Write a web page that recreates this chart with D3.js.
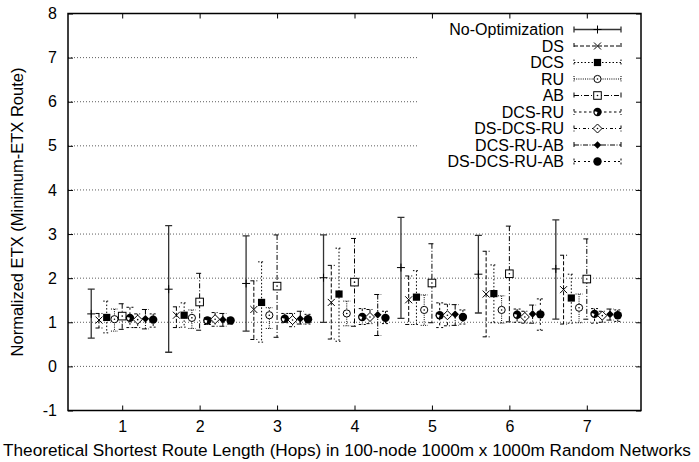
<!DOCTYPE html>
<html>
<head>
<meta charset="utf-8">
<script src="https://cdn.jsdelivr.net/npm/d3@7"></script>
<style>
  body { margin: 0; background: #fff; }
  text { font-family: "Liberation Sans", Arial, Helvetica, sans-serif; fill: #000; }
</style>
</head>
<body>
<script>
// hop counts on the x axis
const categories = [1, 2, 3, 4, 5, 6, 7];
const seriesNames = ['No-Optimization', 'DS', 'DCS', 'RU', 'AB', 'DCS-RU', 'DS-DCS-RU', 'DCS-RU-AB', 'DS-DCS-RU-AB'];
const yTicks = [-1, 0, 1, 2, 3, 4, 5, 6, 7, 8];

// one row per series, one column per hop count
const means = [
  [1.19, 1.75, 1.88, 2.01, 2.24, 2.09, 2.21],
  [1.05, 1.16, 1.29, 1.45, 1.51, 1.64, 1.74],
  [1.11, 1.16, 1.45, 1.64, 1.57, 1.65, 1.55],
  [1.07, 1.10, 1.16, 1.20, 1.28, 1.28, 1.33],
  [1.14, 1.46, 1.82, 1.91, 1.89, 2.10, 1.98],
  [1.10, 1.04, 1.08, 1.12, 1.16, 1.17, 1.19],
  [1.06, 1.07, 1.05, 1.12, 1.16, 1.12, 1.15],
  [1.08, 1.06, 1.08, 1.17, 1.18, 1.19, 1.18],
  [1.06, 1.04, 1.07, 1.10, 1.12, 1.18, 1.16]
];
const lows = [
  [0.64, 0.32, 0.80, 1.00, 1.09, 1.21, 1.07],
  [0.87, 0.88, 0.61, 0.62, 0.95, 0.67, 0.96],
  [0.76, 0.89, 0.55, 0.57, 0.95, 0.99, 0.98],
  [0.80, 0.86, 0.86, 0.92, 0.93, 0.98, 0.99],
  [0.84, 0.82, 0.66, 0.91, 0.99, 1.01, 1.07],
  [0.88, 0.95, 0.99, 0.95, 0.88, 1.00, 0.98],
  [0.88, 0.91, 0.90, 0.97, 0.92, 0.98, 1.00],
  [0.85, 0.91, 0.96, 0.70, 0.93, 0.98, 1.05],
  [0.89, 0.96, 0.96, 0.97, 0.96, 0.82, 1.02]
];
const highs = [
  [1.75, 3.19, 2.96, 2.98, 3.38, 2.97, 3.32],
  [1.20, 1.35, 1.94, 2.29, 2.05, 2.61, 2.52],
  [1.48, 1.44, 2.37, 2.68, 2.17, 2.30, 2.09],
  [1.30, 1.28, 1.33, 1.48, 1.62, 1.60, 1.64],
  [1.42, 2.11, 2.98, 2.90, 2.78, 3.18, 2.89],
  [1.34, 1.10, 1.20, 1.31, 1.44, 1.30, 1.31],
  [1.19, 1.22, 1.20, 1.29, 1.41, 1.25, 1.25],
  [1.29, 1.20, 1.25, 1.63, 1.40, 1.39, 1.30],
  [1.19, 1.10, 1.18, 1.25, 1.28, 1.53, 1.28]
];

// gnuplot-like line/point styles
const dashes = ['none', '4,2', '1.5,2', '1,1.2', '5,2,1,2', '2.5,2.5', '3,2,1,3', '5,1.5,1,1.5', '2,2,2,4'];
const markers = ['plus', 'cross', 'sqFill', 'circDot', 'sqDot', 'circPart', 'diaDot', 'diaFill', 'circFill'];

const width = 699;
const height = 462;
const plotL = 68, plotR = 641, plotT = 13.5, plotB = 410.5;

const x = d3.scaleLinear().domain([0.3, 7.7]).range([plotL, plotR]);
const y = d3.scaleLinear().domain([-1, 8]).range([plotB, plotT]);

const svg = d3.select('body').append('svg')
  .attr('width', width)
  .attr('height', height);

// dotted grid
svg.append('g').selectAll('line')
  .data(yTicks.filter(t => t > -1 && t < 8))
  .enter().append('line')
  .attr('x1', plotL).attr('x2', plotR)
  .attr('y1', d => y(d)).attr('y2', d => y(d))
  .attr('stroke', '#333').attr('stroke-width', 0.8)
  .attr('stroke-dasharray', '1,2');

// key background hides the grid behind it
svg.append('rect')
  .attr('x', 417).attr('y', plotT)
  .attr('width', plotR - 417).attr('height', 158)
  .attr('fill', '#fff');

function drawMarker(g, type, cx, cy) {
  if (type === 'plus') {
    g.append('path').attr('d', `M${cx - 4},${cy}H${cx + 4}M${cx},${cy - 4}V${cy + 4}`)
      .attr('stroke', '#000').attr('stroke-width', 1);
  } else if (type === 'cross') {
    g.append('path').attr('d', `M${cx - 3.5},${cy - 3.5}L${cx + 3.5},${cy + 3.5}M${cx - 3.5},${cy + 3.5}L${cx + 3.5},${cy - 3.5}`)
      .attr('stroke', '#000').attr('stroke-width', 1);
  } else if (type === 'sqFill') {
    g.append('rect').attr('x', cx - 3.6).attr('y', cy - 3.6).attr('width', 7.2).attr('height', 7.2).attr('fill', '#000');
  } else if (type === 'circDot') {
    g.append('circle').attr('cx', cx).attr('cy', cy).attr('r', 3.6).attr('fill', '#fff').attr('stroke', '#000').attr('stroke-width', 1);
    g.append('circle').attr('cx', cx).attr('cy', cy).attr('r', 0.8).attr('fill', '#000');
  } else if (type === 'sqDot') {
    g.append('rect').attr('x', cx - 3.8).attr('y', cy - 3.8).attr('width', 7.6).attr('height', 7.6)
      .attr('fill', '#fff').attr('stroke', '#000').attr('stroke-width', 1);
    g.append('circle').attr('cx', cx).attr('cy', cy).attr('r', 0.8).attr('fill', '#000');
  } else if (type === 'circPart') {
    g.append('circle').attr('cx', cx).attr('cy', cy).attr('r', 4.2).attr('fill', '#000');
    const arc = d3.arc().innerRadius(0).outerRadius(2.8).startAngle(Math.PI * 1.1).endAngle(Math.PI * 1.6);
    g.append('path').attr('d', arc()).attr('transform', `translate(${cx},${cy})`).attr('fill', '#fff');
  } else if (type === 'diaDot') {
    g.append('path').attr('d', `M${cx},${cy - 4.5}L${cx + 4.5},${cy}L${cx},${cy + 4.5}L${cx - 4.5},${cy}Z`)
      .attr('fill', '#fff').attr('stroke', '#000').attr('stroke-width', 1);
    g.append('circle').attr('cx', cx).attr('cy', cy).attr('r', 0.8).attr('fill', '#000');
  } else if (type === 'diaFill') {
    g.append('path').attr('d', `M${cx},${cy - 3.8}L${cx + 3.8},${cy}L${cx},${cy + 3.8}L${cx - 3.8},${cy}Z`).attr('fill', '#000');
  } else if (type === 'circFill') {
    g.append('circle').attr('cx', cx).attr('cy', cy).attr('r', 4.2).attr('fill', '#000');
  }
}

// error bars
const offset = 0.1;
const plot = svg.append('g');
seriesNames.forEach((name, s) => {
  const g = plot.append('g');
  const sw = s === 0 ? 1.3 : 1;
  const col = s === 0 ? '#333' : '#000';
  categories.forEach((c, i) => {
    const cx = x(c + (s - 4) * offset);
    const y1 = y(highs[s][i]), y0 = y(lows[s][i]);
    g.append('path')
      .attr('d', `M${cx},${y1}V${y0}M${cx - 3.5},${y1}H${cx + 3.5}M${cx - 3.5},${y0}H${cx + 3.5}`)
      .attr('fill', 'none').attr('stroke', col).attr('stroke-width', sw)
      .attr('stroke-dasharray', dashes[s]);
    drawMarker(g, markers[s], cx, y(means[s][i]));
  });
});

// key
const key = svg.append('g');
seriesNames.forEach((name, s) => {
  const ky = 29.5 + s * 16.5;
  key.append('text')
    .attr('x', 564).attr('y', ky).attr('dy', '0.35em')
    .attr('text-anchor', 'end').attr('font-size', 16)
    .text(name);
  key.append('path')
    .attr('d', `M574,${ky}H621M574,${ky - 3}V${ky + 3}M621,${ky - 3}V${ky + 3}`)
    .attr('fill', 'none').attr('stroke', s === 0 ? '#333' : '#000')
    .attr('stroke-width', s === 0 ? 1.3 : 1)
    .attr('stroke-dasharray', dashes[s]);
  drawMarker(key, markers[s], 597.5, ky);
});

// axes with inward ticks
svg.append('g')
  .attr('transform', `translate(0,${plotB})`)
  .call(d3.axisBottom(x).tickValues(categories).tickSizeInner(-5).tickSizeOuter(0).tickPadding(10.5));
svg.append('g')
  .attr('transform', `translate(0,${plotT})`)
  .call(d3.axisTop(x).tickValues(categories).tickSizeInner(-5).tickSizeOuter(0).tickFormat(''));
svg.append('g')
  .attr('transform', `translate(${plotL},0)`)
  .call(d3.axisLeft(y).tickValues(yTicks).tickSizeInner(-5).tickSizeOuter(0).tickPadding(11)
    .tickFormat(d => String(d)));
svg.append('g')
  .attr('transform', `translate(${plotR},0)`)
  .call(d3.axisRight(y).tickValues(yTicks).tickSizeInner(-5).tickSizeOuter(0).tickFormat(''));

svg.selectAll('.domain').remove();
svg.selectAll('.tick line').attr('stroke', '#000');
svg.selectAll('.tick text').attr('font-size', 16).attr('font-family', '"Liberation Sans", Arial, sans-serif');

svg.append('rect')
  .attr('x', plotL).attr('y', plotT)
  .attr('width', plotR - plotL).attr('height', plotB - plotT)
  .attr('fill', 'none').attr('stroke', '#000').attr('stroke-width', 1.5);

svg.append('text')
  .attr('x', 347).attr('y', 455.5)
  .attr('text-anchor', 'middle').attr('font-size', 17.2)
  .text('Theoretical Shortest Route Length (Hops) in 100-node 1000m x 1000m Random Networks');

svg.append('text')
  .attr('transform', `translate(23,${(plotT + plotB) / 2}) rotate(-90)`)
  .attr('text-anchor', 'middle').attr('font-size', 16.5)
  .text('Normalized ETX (Minimum-ETX Route)');
</script>
</body>
</html>
